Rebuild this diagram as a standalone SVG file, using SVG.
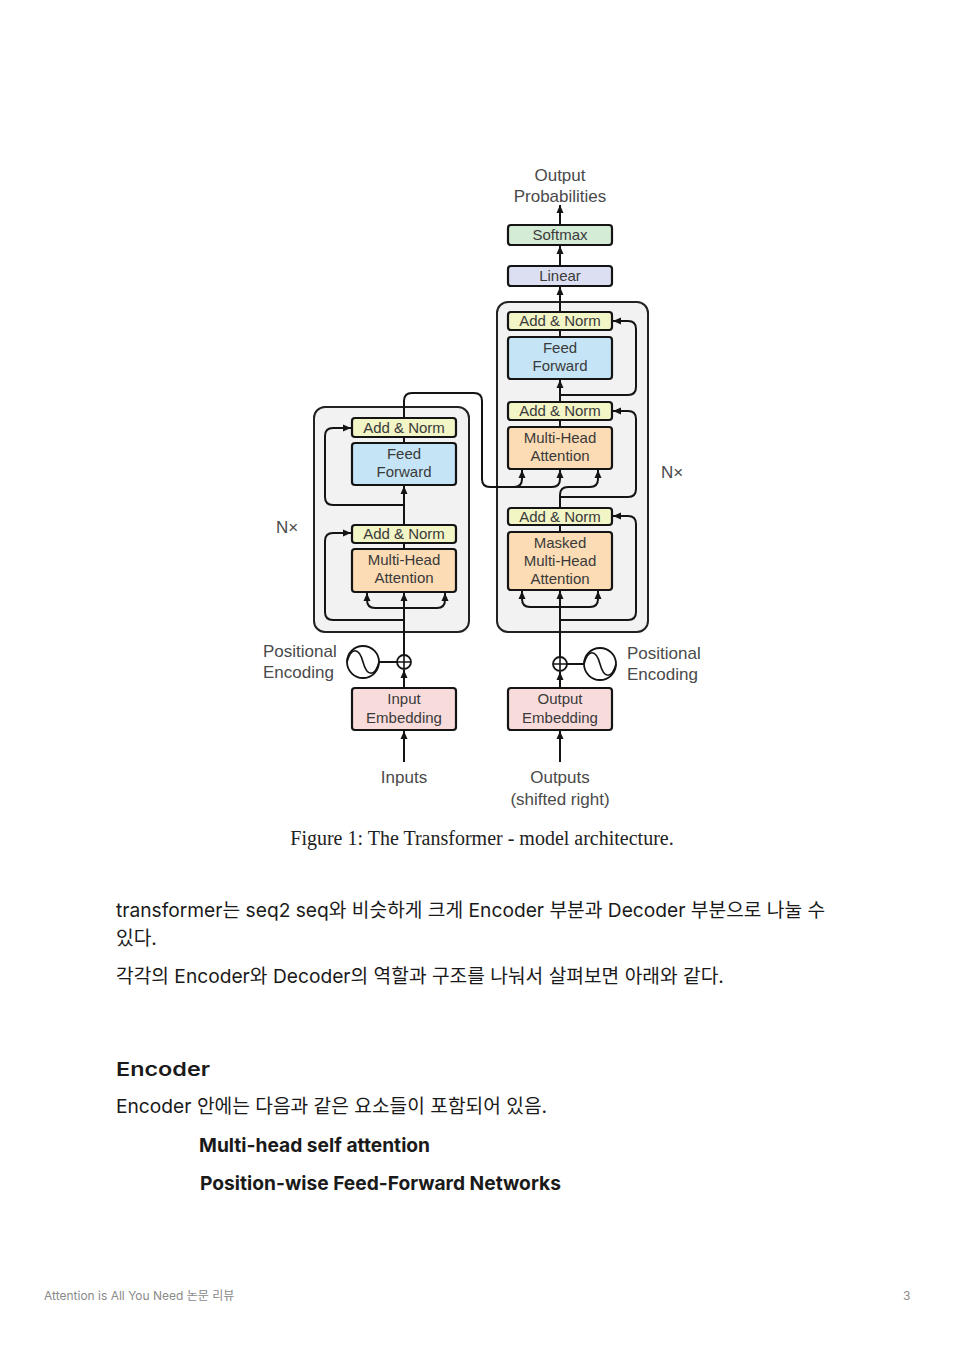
<svg xmlns="http://www.w3.org/2000/svg" width="953" height="1348" viewBox="0 0 953 1348">
  <style>
    .lbl { font-family: "Liberation Sans", Arial, sans-serif; font-size: 15px; fill: #3a3a3a; text-anchor: middle; }
    .outer-lbl { font-family: "Liberation Sans", Arial, sans-serif; font-size: 17px; fill: #4a4a4a; }
    .mid { text-anchor: middle; }
    .stack { fill: #f2f2f2; stroke: #222; stroke-width: 2; }
    .blk { stroke: #141414; stroke-width: 2.2; }
    .norm { fill: #f2f5c6; }
    .ff { fill: #c5e5f6; }
    .att { fill: #fcdcb5; }
    .emb { fill: #f8dcdc; }
    .soft { fill: #d4ecd6; }
    .lin { fill: #dcdff2; }
    .wire { fill: none; stroke: #141414; stroke-width: 2; }
    .body { font-family: Inter, "Noto Sans CJK KR", sans-serif; font-size: 19.2px; fill: #1a1a1a; }
    .bold { font-weight: 700; }
    .foot { font-family: Inter, "Noto Sans CJK KR", sans-serif; font-size: 12px; fill: #8a8a8a; }
  </style>
  <defs>
    <marker id="arr" markerUnits="userSpaceOnUse" markerWidth="8" markerHeight="8" viewBox="0 0 8 8" refX="8" refY="4" orient="auto">
      <path d="M0,0.5 L8,4 L0,7.5 Z" fill="#141414"/>
    </marker>
  </defs>

  <rect width="953" height="1348" fill="#ffffff"/>

  <!-- layer stacks -->
  <g id="encoder-stack">
    <rect class="stack" x="314" y="407" width="155" height="225" rx="11"/>
  </g>
  <g id="decoder-stack">
    <rect class="stack" x="497" y="302" width="151" height="330" rx="11"/>
  </g>

  <!-- connectors -->
  <g id="connectors" class="wire">
    <!-- encoder -->
    <path d="M404,762 V731" marker-end="url(#arr)"/>
    <path d="M404,688 V670" marker-end="url(#arr)"/>
    <path d="M404,655 V593" marker-end="url(#arr)"/>
    <path d="M404,608 H375 Q367,608 367,600 V593" marker-end="url(#arr)"/>
    <path d="M404,608 H437 Q445,608 445,600 V593" marker-end="url(#arr)"/>
    <path d="M404,620 H333 Q325,620 325,612 V541 Q325,533 333,533 H351" marker-end="url(#arr)"/>
    <path d="M404,549 V542"/>
    <path d="M404,525 V486" marker-end="url(#arr)"/>
    <path d="M404,505 H333 Q325,505 325,497 V436 Q325,428 333,428 H351" marker-end="url(#arr)"/>
    <path d="M404,443 V437"/>
    <path d="M404,418 V401 Q404,393 412,393 H474 Q482,393 482,401 V479 Q482,487 490,487 H514 Q522,487 522,479 V470" marker-end="url(#arr)"/>
    <path d="M514,487 H552 Q560,487 560,479 V470" marker-end="url(#arr)"/>
    <path d="M379,662 H397"/>
    <!-- decoder -->
    <path d="M560,762 V731" marker-end="url(#arr)"/>
    <path d="M560,688 V672" marker-end="url(#arr)"/>
    <path d="M560,657 V591" marker-end="url(#arr)"/>
    <path d="M560,607 H530 Q522,607 522,599 V591" marker-end="url(#arr)"/>
    <path d="M560,607 H590 Q598,607 598,599 V591" marker-end="url(#arr)"/>
    <path d="M560,620 H628 Q636,620 636,612 V524 Q636,516 628,516 H613" marker-end="url(#arr)"/>
    <path d="M560,532 V525"/>
    <path d="M560,508 V495 Q560,487 568,487 H590 Q598,487 598,479 V470" marker-end="url(#arr)"/>
    <path d="M560,497 H628 Q636,497 636,489 V419 Q636,411 628,411 H613" marker-end="url(#arr)"/>
    <path d="M560,427 V420"/>
    <path d="M560,402 V380" marker-end="url(#arr)"/>
    <path d="M560,395 H628 Q636,395 636,387 V329 Q636,321 628,321 H613" marker-end="url(#arr)"/>
    <path d="M560,337 V330"/>
    <path d="M560,312 V287" marker-end="url(#arr)"/>
    <path d="M560,266 V246" marker-end="url(#arr)"/>
    <path d="M560,225 V205" marker-end="url(#arr)"/>
    <path d="M567,664 H584"/>
  </g>

  <!-- encoder blocks -->
  <g id="enc-addnorm-2">
    <rect class="blk norm" x="352" y="418" width="104" height="19" rx="3"/>
    <text class="lbl" x="404" y="433">Add &amp; Norm</text>
  </g>
  <g id="enc-feedforward">
    <rect class="blk ff" x="352" y="443" width="104" height="42" rx="3"/>
    <text class="lbl" x="404" y="459">Feed</text>
    <text class="lbl" x="404" y="477">Forward</text>
  </g>
  <g id="enc-addnorm-1">
    <rect class="blk norm" x="352" y="525" width="104" height="18" rx="3"/>
    <text class="lbl" x="404" y="539">Add &amp; Norm</text>
  </g>
  <g id="enc-attention">
    <rect class="blk att" x="352" y="549" width="104" height="43" rx="3"/>
    <text class="lbl" x="404" y="565">Multi-Head</text>
    <text class="lbl" x="404" y="583">Attention</text>
  </g>
  <g id="input-embedding">
    <rect class="blk emb" x="352" y="688" width="104" height="42" rx="3"/>
    <text class="lbl" x="404" y="704">Input</text>
    <text class="lbl" x="404" y="723">Embedding</text>
  </g>
  <g id="enc-positional">
    <circle cx="363" cy="662" r="16" fill="#fff" stroke="#141414" stroke-width="1.8"/>
    <path d="M347,662 C351,647 359,647 363,662 C367,677 375,677 379,662" fill="none" stroke="#141414" stroke-width="1.6"/>
    <text class="outer-lbl" x="263" y="657">Positional</text>
    <text class="outer-lbl" x="263" y="678">Encoding</text>
  </g>
  <g id="enc-add">
    <circle cx="404" cy="662" r="7" fill="#fff" stroke="#141414" stroke-width="1.8"/>
    <path d="M397,662 H411 M404,655 V669" stroke="#141414" stroke-width="1.6"/>
  </g>
  <g id="inputs-label">
    <text class="outer-lbl mid" x="404" y="783">Inputs</text>
  </g>
  <g id="enc-nx">
    <text class="outer-lbl" x="276" y="533">N×</text>
  </g>

  <!-- decoder blocks -->
  <g id="dec-addnorm-3">
    <rect class="blk norm" x="508" y="312" width="104" height="18" rx="3"/>
    <text class="lbl" x="560" y="326">Add &amp; Norm</text>
  </g>
  <g id="dec-feedforward">
    <rect class="blk ff" x="508" y="337" width="104" height="42" rx="3"/>
    <text class="lbl" x="560" y="353">Feed</text>
    <text class="lbl" x="560" y="371">Forward</text>
  </g>
  <g id="dec-addnorm-2">
    <rect class="blk norm" x="508" y="402" width="104" height="18" rx="3"/>
    <text class="lbl" x="560" y="416">Add &amp; Norm</text>
  </g>
  <g id="dec-cross-attention">
    <rect class="blk att" x="508" y="427" width="104" height="42" rx="3"/>
    <text class="lbl" x="560" y="443">Multi-Head</text>
    <text class="lbl" x="560" y="461">Attention</text>
  </g>
  <g id="dec-addnorm-1">
    <rect class="blk norm" x="508" y="508" width="104" height="17" rx="3"/>
    <text class="lbl" x="560" y="522">Add &amp; Norm</text>
  </g>
  <g id="dec-masked-attention">
    <rect class="blk att" x="508" y="532" width="104" height="58" rx="3"/>
    <text class="lbl" x="560" y="548">Masked</text>
    <text class="lbl" x="560" y="566">Multi-Head</text>
    <text class="lbl" x="560" y="584">Attention</text>
  </g>
  <g id="output-embedding">
    <rect class="blk emb" x="508" y="688" width="104" height="42" rx="3"/>
    <text class="lbl" x="560" y="704">Output</text>
    <text class="lbl" x="560" y="723">Embedding</text>
  </g>
  <g id="dec-add">
    <circle cx="560" cy="664" r="7" fill="#fff" stroke="#141414" stroke-width="1.8"/>
    <path d="M553,664 H567 M560,657 V671" stroke="#141414" stroke-width="1.6"/>
  </g>
  <g id="dec-positional">
    <circle cx="600" cy="664" r="16" fill="#fff" stroke="#141414" stroke-width="1.8"/>
    <path d="M584,664 C588,649 596,649 600,664 C604,679 612,679 616,664" fill="none" stroke="#141414" stroke-width="1.6"/>
    <text class="outer-lbl" x="627" y="659">Positional</text>
    <text class="outer-lbl" x="627" y="680">Encoding</text>
  </g>
  <g id="outputs-label">
    <text class="outer-lbl mid" x="560" y="783">Outputs</text>
    <text class="outer-lbl mid" x="560" y="805">(shifted right)</text>
  </g>
  <g id="dec-nx">
    <text class="outer-lbl" x="661" y="478">N×</text>
  </g>
  <g id="linear">
    <rect class="blk lin" x="508" y="266" width="104" height="20" rx="3"/>
    <text class="lbl" x="560" y="281">Linear</text>
  </g>
  <g id="softmax">
    <rect class="blk soft" x="508" y="225" width="104" height="20" rx="3"/>
    <text class="lbl" x="560" y="240">Softmax</text>
  </g>
  <g id="output-probabilities">
    <text class="outer-lbl mid" x="560" y="181">Output</text>
    <text class="outer-lbl mid" x="560" y="202">Probabilities</text>
  </g>

  <!-- caption -->
  <text x="482" y="845" text-anchor="middle" font-family="Liberation Serif, Times New Roman, serif" font-size="20" fill="#222">Figure 1: The Transformer - model architecture.</text>

  <!-- body text -->
  <text class="body" x="116" y="917">transformer는 seq2 seq와 비슷하게 크게 Encoder 부분과 Decoder 부분으로 나눌 수</text>
  <text class="body" x="116" y="945">있다.</text>
  <text class="body" x="116" y="983">각각의 Encoder와 Decoder의 역할과 구조를 나눠서 살펴보면 아래와 같다.</text>
  <text class="body" x="116" y="1076" font-size="25" font-weight="600" textLength="94" lengthAdjust="spacingAndGlyphs">Encoder</text>
  <text class="body" x="116" y="1113">Encoder 안에는 다음과 같은 요소들이 포함되어 있음.</text>
  <text class="body bold" x="199" y="1152">Multi-head self attention</text>
  <text class="body bold" x="200" y="1190">Position-wise Feed-Forward Networks</text>

  <!-- footer -->
  <text class="foot" x="44" y="1300">Attention is All You Need 논문 리뷰</text>
  <text class="foot" x="903" y="1300">3</text>
</svg>
